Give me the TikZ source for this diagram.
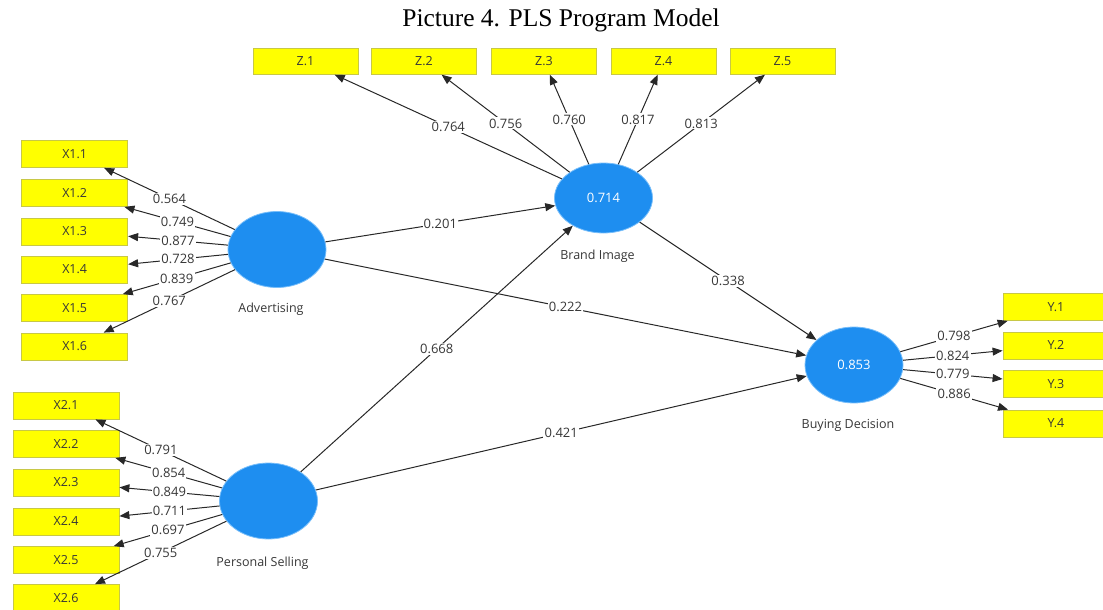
\documentclass[tikz,border=0pt]{standalone}
\usepackage{fontspec}
\setmainfont{Liberation Serif}
\newfontfamily\plsfont{Open Sans}
\usepackage{tikz}
\usetikzlibrary{
  arrows.meta,
  positioning,
  shapes.geometric
}
\definecolor{LatentBlue}{RGB}{30,142,240}
\definecolor{HaloBlue}{RGB}{120,190,250}
\definecolor{IndYellow}{RGB}{255,255,0}
\definecolor{IndBorder}{RGB}{200,200,70}
\definecolor{PathGray}{RGB}{40,40,40}
\definecolor{TextGray}{RGB}{55,55,55}
\tikzset{
  latent/.style={ellipse,fill=LatentBlue,draw=HaloBlue,line width=0.8pt,minimum width=98pt,minimum height=76pt,inner sep=0pt,text=white,font=\plsfont\fontsize{13}{15}\selectfont},
  indicator/.style={draw=IndBorder,fill=IndYellow,line width=0.8pt,minimum width=106pt,minimum height=27pt,inner sep=0pt,text=TextGray,font=\plsfont\fontsize{12.5}{14}\selectfont},
  latentname/.style={inner sep=0pt,text=TextGray,xshift=-6pt,font=\plsfont\fontsize{12.5}{14}\selectfont},
  loading/.style={-{Triangle[length=10pt,width=8pt]},line width=1pt,draw=PathGray},
  coef/.style={fill=white,inner sep=1.2pt,text=TextGray,font=\plsfont\fontsize{13}{15}\selectfont}
}
\begin{document}
\begin{tikzpicture}[x=1pt,y=-1pt,node distance=16pt]
\useasboundingbox (0,0) rectangle (1103,610);
\node[font=\fontsize{25.5}{30}\selectfont] (title) at (561,20) {Picture 4. PLS Program Model};
\node[latent] (adv) at (277,249.5) {};
\node[latent, minimum height=70pt] (brand) at (603.5,198) {0.714};
\node[latent] (sell) at (268.5,501) {};
\node[latent] (buy) at (854,365) {0.853};
\node[latentname, below=15pt of adv] (advname) {Advertising};
\node[latentname, below=of brand] (brandname) {Brand Image};
\node[latentname, below=17pt of sell] (sellname) {Personal Selling};
\node[latentname, below=of buy] (buyname) {Buying Decision};
\node[indicator] (x11) at (74.7,154) {X1.1};
\node[indicator] (x12) at (74.7,193) {X1.2};
\node[indicator] (x13) at (74.7,231.5) {X1.3};
\node[indicator] (x14) at (74.7,269.5) {X1.4};
\node[indicator] (x15) at (74.7,308) {X1.5};
\node[indicator] (x16) at (74.7,346.5) {X1.6};
\node[indicator] (x21) at (66,405.5) {X2.1};
\node[indicator] (x22) at (66,444) {X2.2};
\node[indicator] (x23) at (66,482.5) {X2.3};
\node[indicator] (x24) at (66,521.5) {X2.4};
\node[indicator] (x25) at (66,560) {X2.5};
\node[indicator] (x26) at (66,598) {X2.6};
\node[indicator, minimum width=105pt, minimum height=26pt] (z1) at (305.5,61.3) {Z.1};
\node[indicator, minimum width=105pt, minimum height=26pt] (z2) at (424,61.3) {Z.2};
\node[indicator, minimum width=105pt, minimum height=26pt] (z3) at (544,61.3) {Z.3};
\node[indicator, minimum width=105pt, minimum height=26pt] (z4) at (663.5,61.3) {Z.4};
\node[indicator, minimum width=105pt, minimum height=26pt] (z5) at (782.5,61.3) {Z.5};
\node[indicator] (y1) at (1056,307) {Y.1};
\node[indicator] (y2) at (1056,345.5) {Y.2};
\node[indicator] (y3) at (1056,384) {Y.3};
\node[indicator] (y4) at (1056,423.5) {Y.4};
\draw[loading] (adv) -- node[coef] {0.564} (x11);
\draw[loading] (adv) -- node[coef] {0.749} (x12);
\draw[loading] (adv) -- node[coef] {0.877} (x13);
\draw[loading] (adv) -- node[coef] {0.728} (x14);
\draw[loading] (adv) -- node[coef] {0.839} (x15);
\draw[loading] (adv) -- node[coef] {0.767} (x16);
\draw[loading] (sell) -- node[coef] {0.791} (x21);
\draw[loading] (sell) -- node[coef] {0.854} (x22);
\draw[loading] (sell) -- node[coef] {0.849} (x23);
\draw[loading] (sell) -- node[coef] {0.711} (x24);
\draw[loading] (sell) -- node[coef] {0.697} (x25);
\draw[loading] (sell) -- node[coef] {0.755} (x26);
\draw[loading] (brand) -- node[coef] {0.764} (z1);
\draw[loading] (brand) -- node[coef] {0.756} (z2);
\draw[loading] (brand) -- node[coef] {0.760} (z3);
\draw[loading] (brand) -- node[coef] {0.817} (z4);
\draw[loading] (brand) -- node[coef] {0.813} (z5);
\draw[loading] (buy) -- node[coef] {0.798} (y1);
\draw[loading] (buy) -- node[coef] {0.824} (y2);
\draw[loading] (buy) -- node[coef] {0.779} (y3);
\draw[loading] (buy) -- node[coef] {0.886} (y4);
\draw[loading] (adv) -- node[coef] {0.201} (brand);
\draw[loading] (adv) -- node[coef] {0.222} (buy);
\draw[loading] (sell) -- node[coef] {0.668} (brand);
\draw[loading] (sell) -- node[coef] {0.421} (buy);
\draw[loading] (brand) -- node[coef] {0.338} (buy);
\end{tikzpicture}
\end{document}
